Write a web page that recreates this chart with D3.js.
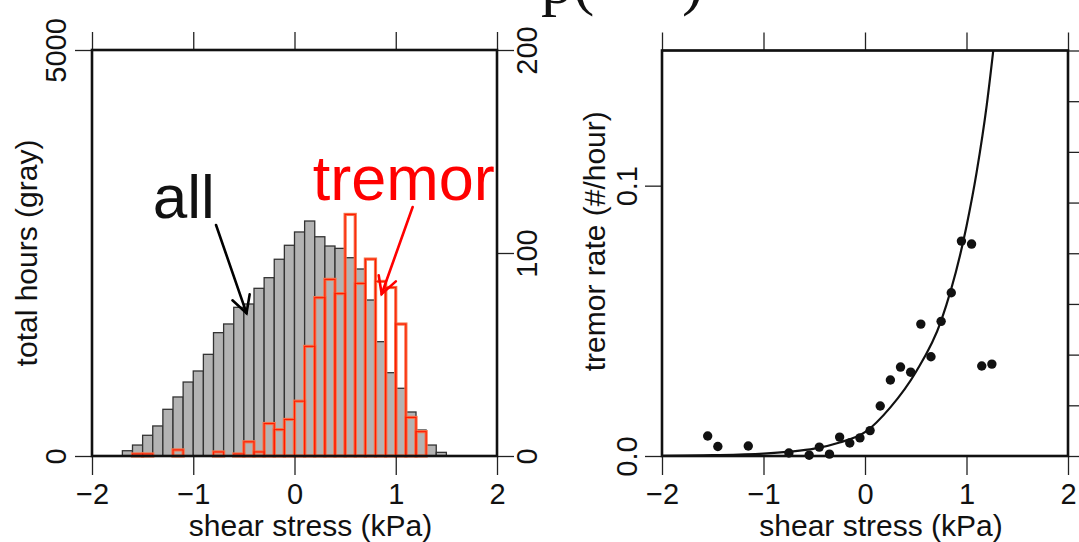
<!DOCTYPE html>
<html><head><meta charset="utf-8">
<script src="https://cdn.jsdelivr.net/npm/d3@7"></script>
<style>
body{margin:0;background:#fff}
svg{display:block}
text{font-family:"Liberation Sans",Arial,Helvetica,sans-serif;fill:#111}
</style>
</head><body>
<svg id="c" width="1079" height="542"></svg>
<script>
// ---- data ----
const binLow = [-1.7,-1.6,-1.5,-1.4,-1.3,-1.2,-1.1,-1.0,-0.9,-0.8,-0.7,-0.6,-0.5,-0.4,-0.3,-0.2,-0.1,
                0.0,0.1,0.2,0.3,0.4,0.5,0.6,0.7,0.8,0.9,1.0,1.1,1.2,1.3,1.4];
const binWidth = 0.1;
const hours = [65,135,255,370,575,727,911,1047,1252,1519,1626,1831,1872,2065,2196,2423,2595,
               2759,2894,2700,2586,2557,2442,2303,1921,1408,1026,834,542,320,135,45];
const tremorCounts = [0,1,1,0,0,3,0,0,0,2,0,1,7,2,16,13,18,
                      27,54,78,87,80,119,85,97,86,83,65,19,12,0,0];
const rateX = [-1.55,-1.45,-1.15,-0.75,-0.55,-0.45,-0.35,-0.25,-0.15,-0.05,0.05,0.15,0.25,0.35,0.45,0.55,0.65,0.75,0.85,0.95,1.05,1.15,1.25];
const rateY = [0.0074,0.0035,0.0037,0.0011,0.0003,0.0033,0.0007,0.0070,0.0048,0.0067,0.0094,0.0185,0.0281,0.0329,0.0310,0.0488,0.0367,0.0498,0.0604,0.0795,0.0784,0.0333,0.0340];
const fitX = [-2,-1.5,-1,-0.75,-0.5,-0.25,0,0.25,0.5,0.75,1.0,1.1,1.2,1.27];
const fitY = [0.0001,0.0003,0.0009,0.0016,0.0027,0.0050,0.0088,0.0180,0.0310,0.0500,0.0850,0.1050,0.1300,0.1520];
const xTicks = [-2,-1,0,1,2];
const hoursTicks = [0,5000];
const countTicks = [0,100,200];
const rateTicks = [0,0.1];
const rightMinorTicks = [0,1,2,3,4,5,6,7,8];

// ---- layout ----
const svg = d3.select("#c");
const L = {x0:92, x1:497, y0:456, y1:50};
const R = {x0:662, x1:1068, y0:456, y1:50.5};
const TICK_FS = 29, TITLE_FS = 30;

const xL = d3.scaleLinear().domain([-2,2]).range([L.x0,L.x1]);
const yH = d3.scaleLinear().domain([0,5000]).range([L.y0,L.y1]);
const yC = d3.scaleLinear().domain([0,200]).range([L.y0,L.y1]);
const xR = d3.scaleLinear().domain([-2,2]).range([R.x0,R.x1]);
const yR = d3.scaleLinear().domain([0,0.15]).range([R.y0,R.y1]);
const yM = d3.scaleLinear().domain([0,8]).range([R.y0,R.y1]);

// cut-off title at the very top
svg.append("text").attr("x",541).attr("y",3)
  .style("font-family","'Liberation Serif','Times New Roman',serif")
  .style("font-size","64px").text("p(");
svg.append("text").attr("x",682).attr("y",3)
  .style("font-family","'Liberation Serif','Times New Roman',serif")
  .style("font-size","64px").text(")");

// ---- left panel: histograms ----
const bins = binLow.map((lo,i)=>({lo, hi:lo+binWidth, h:hours[i], t:tremorCounts[i]}));
const gL = svg.append("g");
gL.selectAll("rect.hrs").data(bins).join("rect").attr("class","hrs")
  .attr("x",d=>xL(d.lo)).attr("width",d=>xL(d.hi)-xL(d.lo))
  .attr("y",d=>yH(d.h)).attr("height",d=>yH(0)-yH(d.h))
  .attr("fill","#b3b3b3").attr("stroke","#333").attr("stroke-width",1.3);
gL.selectAll("rect.trm").data(bins.filter(d=>d.t>0)).join("rect").attr("class","trm")
  .attr("x",d=>xL(d.lo)).attr("width",d=>xL(d.hi)-xL(d.lo))
  .attr("y",d=>yC(d.t)).attr("height",d=>yC(0)-yC(d.t))
  .attr("fill","none").attr("stroke","#f5744a").attr("stroke-width",3.2);
gL.selectAll("rect.trm2").data(bins.filter(d=>d.t>0)).join("rect").attr("class","trm2")
  .attr("x",d=>xL(d.lo)).attr("width",d=>xL(d.hi)-xL(d.lo))
  .attr("y",d=>yC(d.t)).attr("height",d=>yC(0)-yC(d.t))
  .attr("fill","none").attr("stroke","#ff1a00").attr("stroke-width",1.1);

// ---- right panel: rate points and fit ----
svg.append("clipPath").attr("id","clipR").append("rect")
  .attr("x",R.x0).attr("y",R.y1).attr("width",R.x1-R.x0).attr("height",R.y0-R.y1);
const fit = fitX.map((x,i)=>[x,fitY[i]]);
svg.append("path").datum(fit).attr("clip-path","url(#clipR)")
  .attr("d",d3.line().x(d=>xR(d[0])).y(d=>yR(d[1])).curve(d3.curveMonotoneX))
  .attr("fill","none").attr("stroke","#111").attr("stroke-width",2.2);
svg.selectAll("circle.pt").data(rateX.map((x,i)=>[x,rateY[i]])).join("circle").attr("class","pt")
  .attr("cx",d=>xR(d[0])).attr("cy",d=>yR(d[1])).attr("r",4.7).attr("fill","#111");

// ---- axes ----
function styleAxis(g){
  g.select(".domain").remove();
  g.selectAll(".tick line").attr("stroke","#222").attr("stroke-width",1.3);
  g.selectAll("text").style("font-size",TICK_FS+"px").attr("fill","#111");
}
function bottomAxis(x){
  const g = svg.append("g").attr("transform",`translate(0,${L.y0})`)
    .call(d3.axisBottom(x).tickValues(xTicks).tickSize(19).tickSizeOuter(0).tickFormat(d3.format("d")));
  styleAxis(g);
  g.selectAll("text").attr("y",48).attr("dy",null);
  svg.append("line").attr("x1",x(-2)).attr("x2",x(2)).attr("y1",L.y0).attr("y2",L.y0)
    .attr("stroke","#222").attr("stroke-width",1.3);
}
function topAxis(x,y){
  const g = svg.append("g").attr("transform",`translate(0,${y})`)
    .call(d3.axisTop(x).tickValues(xTicks).tickSize(18).tickFormat(""));
  styleAxis(g);
  svg.append("line").attr("x1",x(-2)).attr("x2",x(2)).attr("y1",y).attr("y2",y)
    .attr("stroke","#222").attr("stroke-width",1.3);
}
function sideAxis(scale, ticks, xpos, side, fmt, labelBase){
  const ax = side==="left" ? d3.axisLeft(scale) : d3.axisRight(scale);
  const g = svg.append("g").attr("transform",`translate(${xpos},0)`)
    .call(ax.tickValues(ticks).tickSize(17).tickFormat(fmt||""));
  styleAxis(g);
  g.selectAll(".tick text")
    .attr("x",null).attr("dy",null).attr("text-anchor","middle")
    .attr("transform",`translate(${labelBase-xpos},0) rotate(-90)`)
    .attr("y",0);
  return g;
}
bottomAxis(xL); bottomAxis(xR);
topAxis(xL, L.y1); topAxis(xR, R.y1);
sideAxis(yH, hoursTicks, L.x0, "left", d3.format("d"), 66);
sideAxis(yC, countTicks, L.x1, "right", d3.format("d"), 537);
sideAxis(yR, rateTicks, R.x0, "left", d3.format(".1f"), 637);
const gm = svg.append("g").attr("transform",`translate(${R.x1},0)`)
  .call(d3.axisRight(yM).tickValues(rightMinorTicks).tickSize(12).tickFormat(""));
styleAxis(gm);

// boxes
svg.append("rect").attr("x",L.x0).attr("y",L.y1).attr("width",L.x1-L.x0).attr("height",L.y0-L.y1)
  .attr("fill","none").attr("stroke","#111").attr("stroke-width",2.6);
svg.append("rect").attr("x",R.x0).attr("y",R.y1).attr("width",R.x1-R.x0).attr("height",R.y0-R.y1)
  .attr("fill","none").attr("stroke","#111").attr("stroke-width",2.6);

// axis titles
svg.append("text").attr("x",(L.x0+L.x1)/2+16).attr("y",536).attr("text-anchor","middle")
  .style("font-size",TITLE_FS+"px").text("shear stress (kPa)");
svg.append("text").attr("x",(R.x0+R.x1)/2+16).attr("y",536).attr("text-anchor","middle")
  .style("font-size",TITLE_FS+"px").text("shear stress (kPa)");
svg.append("text").attr("transform",`translate(37,${(L.y0+L.y1)/2}) rotate(-90)`)
  .attr("text-anchor","middle").style("font-size",TITLE_FS+"px").text("total hours (gray)");
svg.append("text").attr("transform",`translate(605,${(R.y0+R.y1)/2-12}) rotate(-90)`)
  .attr("text-anchor","middle").style("font-size",TITLE_FS+"px").text("tremor rate (#/hour)");

// ---- annotations (data space) ----
svg.append("text").attr("x",xL(-1.40)).attr("y",yH(2930))
  .style("font-size","62px").attr("fill","#000").text("all");
svg.append("text").attr("x",xL(0.18)).attr("y",yH(3150))
  .style("font-size","63px").style("fill","#ff0000").text("tremor");
function arrow(x1,y1,x2,y2,color){
  const X1=xL(x1),Y1=yH(y1),X2=xL(x2),Y2=yH(y2);
  const a=Math.atan2(Y2-Y1,X2-X1), len=19, sp=0.5;
  const g=svg.append("g").attr("stroke",color).attr("stroke-width",2.6).attr("fill","none")
    .attr("stroke-linecap","round");
  g.append("line").attr("x1",X1).attr("y1",Y1).attr("x2",X2).attr("y2",Y2);
  g.append("path").attr("d",`M${X2-len*Math.cos(a-sp)},${Y2-len*Math.sin(a-sp)}L${X2},${Y2}L${X2-len*Math.cos(a+sp)},${Y2-len*Math.sin(a+sp)}`);
}
arrow(-0.775,2845,-0.474,1760,"#000");
arrow(1.167,3066,0.861,1995,"#ff0000");
</script>
</body></html>
